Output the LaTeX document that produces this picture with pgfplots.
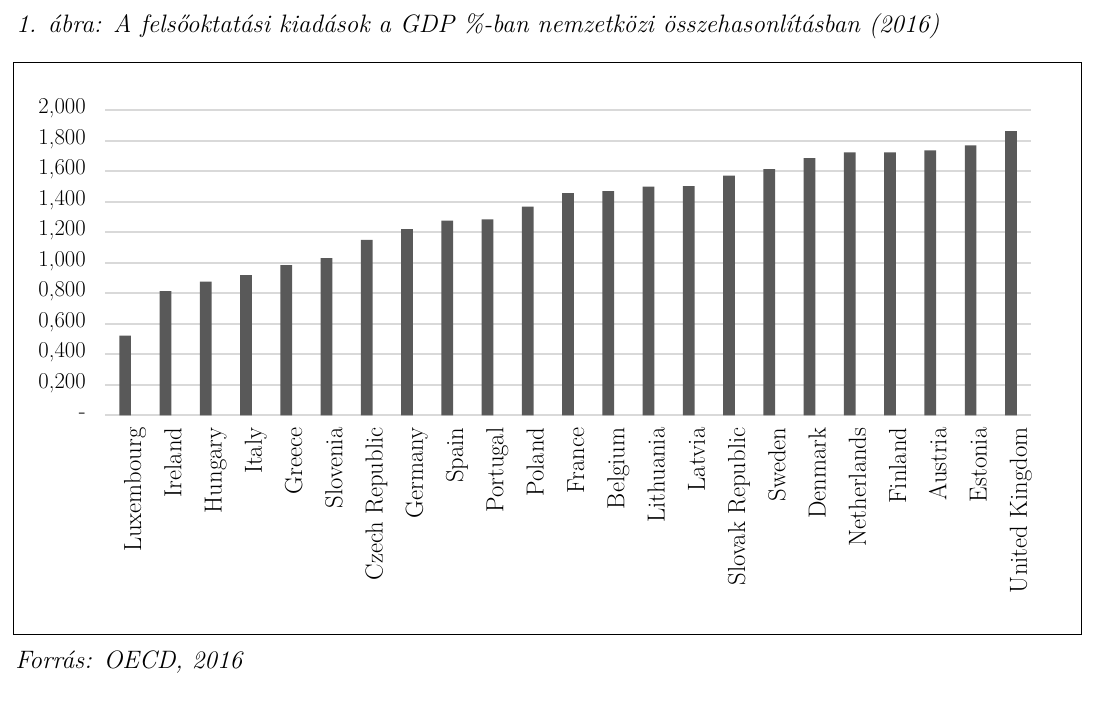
\documentclass[border=0pt]{standalone}
\usepackage{pgfplots}
\pgfplotsset{compat=1.18}
\definecolor{barc}{RGB}{89,89,89}
\definecolor{gridc}{RGB}{217,217,217}
\newcommand{\lab}{\fontsize{17}{20}\selectfont}
\newcommand{\xlab}{\fontsize{18.5}{22}\selectfont}
\newcommand{\captxt}{\fontsize{18.9}{23}\selectfont}
\begin{document}
\begin{tikzpicture}[x=0.75pt,y=0.75pt]
\path (0,0) rectangle (1094,703);
\draw[line width=0.75pt] (13,68.5) rectangle (1081.5,640);
\node[anchor=base west, inner sep=0pt, font=\captxt\itshape] at (16,670)
  {1. ábra: A felsőoktatási kiadások a GDP \%-ban nemzetközi összehasonlításban (2016)};
\node[anchor=base west, inner sep=0pt, font=\captxt\itshape] at (15,35) {Forrás: OECD, 2016};
\begin{axis}[
  at={(78.75pt,215.775pt)}, anchor=south west,
  scale only axis, width=694.5pt, height=228.75pt,
  ybar, bar width=8.8pt,
  xmin=-0.5, xmax=22.5, ymin=0, ymax=2000,
  xtick={0,...,22},
  xticklabels={Luxembourg, Ireland, Hungary, Italy, Greece, Slovenia, Czech Republic,
    Germany, Spain, Portugal, Poland, France, Belgium, Lithuania, Latvia,
    Slovak Republic, Sweden, Denmark, Netherlands, Finland, Austria, Estonia,
    United Kingdom},
  ytick={0,200,...,2000},
  yticklabels={-, {0,200}, {0,400}, {0,600}, {0,800}, {1,000}, {1,200}, {1,400},
    {1,600}, {1,800}, {2,000}},
  ymajorgrids, grid style={gridc, line width=1.5pt},
  axis line style={draw=none}, major tick length=0pt,
  y tick label style={font=\lab, anchor=east, inner sep=0pt, xshift=-14.25pt,
    text height=0.65em, text depth=0.15em},
  x tick label style={font=\xlab, xshift=12pt, yshift=-9pt, rotate=90, anchor=base east, inner sep=0pt},
]
\addplot[fill=barc, draw=none] coordinates {
  (0,523) (1,814) (2,877) (3,919) (4,985) (5,1031) (6,1151) (7,1221)
  (8,1276) (9,1284) (10,1368) (11,1457) (12,1470) (13,1499) (14,1503)
  (15,1571) (16,1615) (17,1687) (18,1724) (19,1724) (20,1737) (21,1770)
  (22,1864)};
\end{axis}
\end{tikzpicture}
\end{document}
